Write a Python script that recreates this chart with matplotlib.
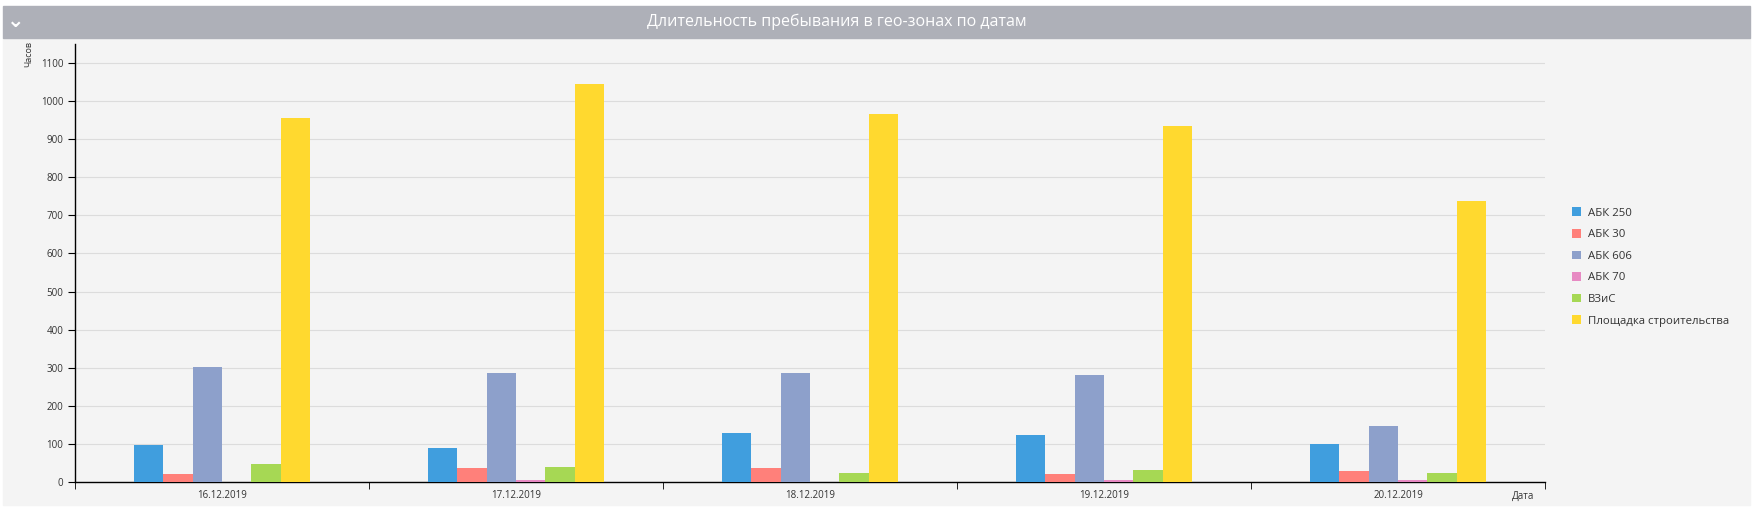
import numpy as np
import matplotlib
matplotlib.use('Agg')
import matplotlib.pyplot as plt
from matplotlib.patches import Rectangle

# data
dates = ['16.12.2019', '17.12.2019', '18.12.2019', '19.12.2019', '20.12.2019']
zones = ['АБК 250', 'АБК 30', 'АБК 606', 'АБК 70', 'ВЗиС', 'Площадка строительства']
abk250 = [97, 89, 129, 123, 100]
abk30 = [21, 37, 37, 21, 29]
abk606 = [303, 286, 286, 281, 147]
abk70 = [0, 5, 0, 5, 5]
vzis = [47, 39, 24, 32, 24]
site = [957, 1045, 966, 934, 737]
colors = ['#409ede', '#ff807a', '#8da0cb', '#e78ac3', '#a6d854', '#ffd92f']

series = [abk250, abk30, abk606, abk70, vzis, site]

plt.rcParams['font.family'] = ['Open Sans', 'DejaVu Sans']

W, H = 1753, 525
fig = plt.figure(figsize=(W / 100, H / 100), dpi=100)
fig.patch.set_facecolor('white')

# panel background and header bar
fig.patches.append(Rectangle((3 / W, 1 - 505 / H), 1747 / W, 467 / H,
                             transform=fig.transFigure, color='#f4f4f4', zorder=-2))
fig.patches.append(Rectangle((3 / W, 1 - 38 / H), 1747 / W, 32 / H,
                             transform=fig.transFigure, color='#aeb0b8', zorder=-2))
fig.text(837 / W, 1 - 22 / H, 'Длительность пребывания в гео-зонах по датам',
         color='white', fontsize=11.5, ha='center', va='center')
fig.text(16 / W, 1 - 21 / H, '\u2304', color='white', fontsize=15, ha='center',
         va='center', fontweight='bold', family=['DejaVu Sans'])

ax = fig.add_axes([75 / W, 1 - 482 / H, 1470 / W, 438 / H])
ax.set_zorder(2)
ax.set_facecolor('#f4f4f4')

n = len(series)
bw = 0.6 / n
x = np.arange(len(dates)) + 0.5
for i, (vals, c, lab) in enumerate(zip(series, colors, zones)):
    ax.bar(x - 0.3 + bw * (i + 0.5), vals, width=bw, color=c, label=lab, zorder=3)

ax.set_xlim(0, len(dates))
ax.set_ylim(0, 1150)
ax.set_yticks(np.arange(0, 1101, 100))
ax.yaxis.grid(True, color='#dcdcdc', linewidth=0.8, zorder=0)
ax.set_axisbelow(True)
ax.set_xticks(x)
ax.set_xticklabels(dates)
ax.set_xticks(np.arange(len(dates) + 1), minor=True)
ax.tick_params(axis='x', which='major', length=0, labelsize=7, pad=6, labelcolor='#333333')
ax.tick_params(axis='x', which='minor', length=5, color='black')
ax.tick_params(axis='y', length=5, labelsize=7, labelcolor='#333333', color='black')
for s in ['top', 'right']:
    ax.spines[s].set_visible(False)
for s in ['left', 'bottom']:
    ax.spines[s].set_color('black')
    ax.spines[s].set_linewidth(1)

fig.text(29 / W, 1 - 54 / H, 'Часов', rotation=90, fontsize=6.5,
         ha='center', va='center', color='#333333')
fig.text(1523 / W, 1 - 496 / H, 'Дата', fontsize=7, ha='center', va='center',
         color='#333333')

leg = ax.legend(loc='center left', bbox_to_anchor=(1562 / W, 1 - 267 / H),
                bbox_transform=fig.transFigure, frameon=False, fontsize=8.2,
                handlelength=0.8, handleheight=0.8, handletextpad=0.6,
                labelspacing=0.9, labelcolor='#333333')

fig.savefig('out.png', dpi=100)
